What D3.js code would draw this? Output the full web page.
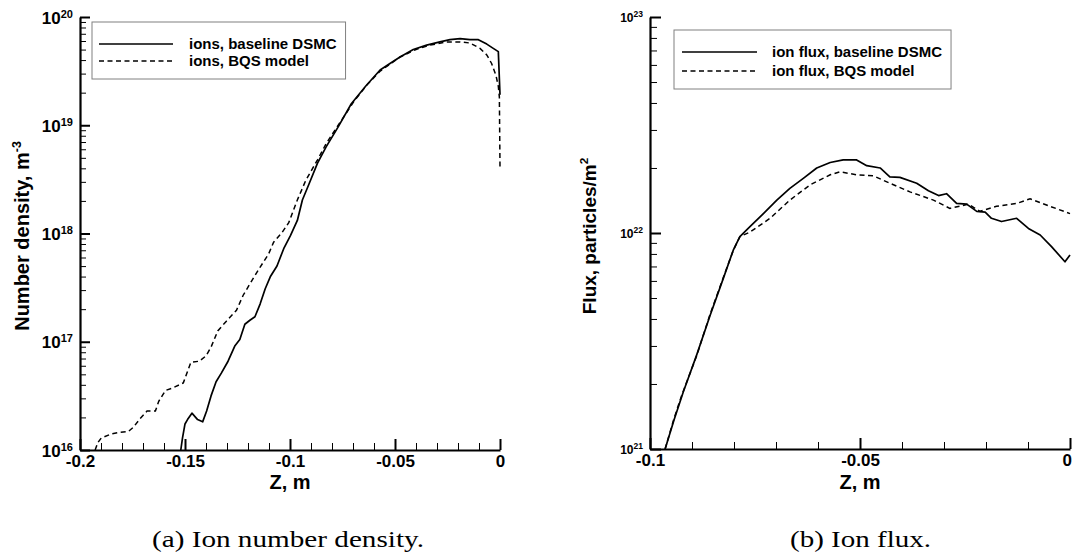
<!DOCTYPE html>
<html><head><meta charset="utf-8">
<script src="https://cdn.jsdelivr.net/npm/d3@7"></script>
<style>
html,body{margin:0;padding:0;background:#fff;}
svg{display:block;}
.lbl{font-family:"Liberation Sans",Arial,Helvetica,sans-serif;font-weight:bold;fill:#000;}
</style></head>
<body><svg id="c" width="1072" height="558"></svg>
<script>
// ---------- data: ion number density (panel a) ----------
const densBaseZ = [-0.1520,-0.1512,-0.1500,-0.1488,-0.1467,-0.1440,-0.1416,-0.1397,-0.1376,-0.1352,-0.1327,-0.1295,-0.1263,-0.1239,-0.1215,-0.1191,-0.1167,-0.1142,-0.1118,-0.1094,-0.1062,-0.1030,-0.0998,-0.0965,-0.0941,-0.0909,-0.0869,-0.0828,-0.0772,-0.0708,-0.0640,-0.0571,-0.0524,-0.0476,-0.0413,-0.0349,-0.0286,-0.0238,-0.0190,-0.0143,-0.0103,-0.0063,-0.0032,-0.0008,0];
const densBaseN = [1.0e16,1.29e16,1.74e16,1.91e16,2.19e16,1.91e16,1.82e16,2.29e16,3.16e16,4.27e16,5.13e16,6.61e16,9.12e16,1.05e17,1.45e17,1.58e17,1.70e17,2.24e17,3.09e17,3.98e17,5.01e17,7.24e17,9.55e17,1.32e18,2.04e18,2.88e18,4.47e18,6.31e18,9.55e18,1.58e19,2.29e19,3.24e19,3.72e19,4.27e19,5.01e19,5.50e19,5.89e19,6.17e19,6.31e19,6.17e19,6.17e19,5.62e19,5.13e19,4.79e19,1.91e19];
const densBqsZ = [-0.1928,-0.1915,-0.1899,-0.1850,-0.1818,-0.1770,-0.1746,-0.1714,-0.1681,-0.1641,-0.1625,-0.1593,-0.1561,-0.1508,-0.1472,-0.1432,-0.1400,-0.1376,-0.1344,-0.1303,-0.1255,-0.1223,-0.1183,-0.1142,-0.1102,-0.1078,-0.1038,-0.1006,-0.0965,-0.0925,-0.0869,-0.0828,-0.0772,-0.0692,-0.0630,-0.0571,-0.0476,-0.0400,-0.0333,-0.0254,-0.0190,-0.0143,-0.0095,-0.0063,-0.0040,-0.0019,-0.0008,-0.0003,0];
const densBqsN = [1.0e16,1.17e16,1.29e16,1.41e16,1.45e16,1.48e16,1.62e16,1.95e16,2.29e16,2.29e16,2.82e16,3.55e16,3.72e16,4.17e16,6.46e16,6.61e16,7.41e16,8.91e16,1.26e17,1.55e17,1.95e17,2.69e17,3.63e17,4.90e17,6.46e17,8.32e17,1.02e18,1.26e18,2.04e18,3.09e18,4.79e18,6.76e18,9.9e18,1.70e19,2.40e19,3.16e19,4.27e19,5.01e19,5.50e19,5.89e19,5.89e19,5.75e19,5.13e19,4.47e19,3.72e19,2.88e19,2.29e19,1.82e19,4.07e18];

// ---------- data: ion flux (panel b) ----------
const fluxBaseZ = [-0.0964,-0.0943,-0.0921,-0.0889,-0.0857,-0.0825,-0.0802,-0.0786,-0.0762,-0.0730,-0.0698,-0.0667,-0.0635,-0.0603,-0.0571,-0.0540,-0.0508,-0.0484,-0.0452,-0.0429,-0.0405,-0.0365,-0.0337,-0.0313,-0.0294,-0.0270,-0.0246,-0.0222,-0.0202,-0.0187,-0.0163,-0.0127,-0.0099,-0.0071,-0.0044,-0.0012,0];
const fluxBaseF = [1.0e21,1.36e21,1.83e21,2.72e21,4.15e21,6.20e21,8.30e21,9.62e21,1.07e22,1.23e22,1.42e22,1.61e22,1.79e22,2.00e22,2.12e22,2.18e22,2.18e22,2.05e22,2.00e22,1.82e22,1.81e22,1.70e22,1.57e22,1.49e22,1.52e22,1.37e22,1.36e22,1.26e22,1.25e22,1.17e22,1.13e22,1.17e22,1.05e22,9.79e21,8.65e21,7.36e21,7.91e21];
const fluxBqsZ = [-0.0964,-0.0943,-0.0925,-0.0889,-0.0857,-0.0825,-0.0802,-0.0786,-0.0762,-0.0714,-0.0667,-0.0619,-0.0571,-0.0548,-0.0508,-0.0468,-0.0429,-0.0381,-0.0325,-0.0286,-0.0242,-0.0214,-0.0175,-0.0127,-0.0095,-0.0048,0];
const fluxBqsF = [1.0e21,1.38e21,1.76e21,2.70e21,4.20e21,6.25e21,8.28e21,9.62e21,1.01e22,1.17e22,1.42e22,1.67e22,1.86e22,1.92e22,1.86e22,1.84e22,1.70e22,1.55e22,1.42e22,1.30e22,1.36e22,1.26e22,1.33e22,1.37e22,1.44e22,1.33e22,1.23e22];

// ---------- ticks / labels ----------
const densXTicks = [-0.2,-0.15,-0.1,-0.05,0];
const densXTickLabels = ["-0.2","-0.15","-0.1","-0.05","0"];
const densYExp = [16,17,18,19,20];
const fluxXTicks = [-0.1,-0.05,0];
const fluxXTickLabels = ["-0.1","-0.05","0"];
const fluxYExp = [21,22,23];
const densLegend = ["ions, baseline DSMC","ions, BQS model"];
const fluxLegend = ["ion flux, baseline DSMC","ion flux, BQS model"];
const captions = ["(a) Ion number density.","(b) Ion flux."];

const svg = d3.select("#c");
svg.append("rect").attr("width",1072).attr("height",558).attr("fill","#fff");

function minorRange(a,b,step,majors){
  const out=[];
  const n=Math.round((b-a)/step);
  for(let i=0;i<=n;i++){const v=+(a+i*step).toFixed(4); if(!majors.some(m=>Math.abs(m-v)<1e-9)) out.push(v);}
  return out;
}
function logMinors(e0,e1){const o=[];for(let e=e0;e<e1;e++)for(let k=2;k<=9;k++)o.push(k*Math.pow(10,e));return o;}

function panel(cfg){
  const g = svg.append("g");
  const x = d3.scaleLinear().domain(cfg.xdom).range([cfg.x0,cfg.x1]);
  const y = d3.scaleLog().domain([Math.pow(10,cfg.yexp[0]),Math.pow(10,cfg.yexp[cfg.yexp.length-1])]).range([cfg.y0,cfg.y1]);

  // curves
  const line = d3.line().x(d=>x(d[0])).y(d=>y(d[1]));
  g.append("path").datum(cfg.s1z.map((z,i)=>[z,cfg.s1v[i]]))
    .attr("d",line).attr("fill","none").attr("stroke","#000").attr("stroke-width",1.7).attr("stroke-linejoin","round");
  g.append("path").datum(cfg.s2z.map((z,i)=>[z,cfg.s2v[i]]))
    .attr("d",line).attr("fill","none").attr("stroke","#000").attr("stroke-width",1.5).attr("stroke-dasharray","5,3.5");

  // x axis minor & major
  const xMinor = minorRange(cfg.xdom[0],cfg.xdom[1],0.01,cfg.xticks);
  g.append("g").attr("transform",`translate(0,${cfg.y0})`)
    .call(d3.axisBottom(x).tickValues(xMinor).tickSizeInner(-cfg.minLen).tickSizeOuter(0).tickFormat(""))
    .call(s=>{s.select(".domain").remove();s.selectAll("line").attr("stroke-width",1);});
  const xa = g.append("g").attr("transform",`translate(0,${cfg.y0})`)
    .call(d3.axisBottom(x).tickValues(cfg.xticks).tickSizeInner(-cfg.majLen).tickSizeOuter(0).tickPadding(5)
      .tickFormat((d,i)=>cfg.xlabels[i]));
  xa.select(".domain").attr("stroke-width",2.2);
  xa.selectAll("line").attr("stroke-width",2);
  xa.selectAll("text").attr("class","lbl").attr("font-size",17).attr("fill","#000");
  xa.attr("font-family",null).attr("font-size",null);
  if(cfg.lastLabelEnd){
    xa.selectAll(".tick text").filter((d,i,n)=>i===n.length-1).attr("text-anchor","end").attr("x",1.5);
  }

  // y axis minor & major
  g.append("g").attr("transform",`translate(${cfg.x0},0)`)
    .call(d3.axisLeft(y).tickValues(logMinors(cfg.yexp[0],cfg.yexp[cfg.yexp.length-1])).tickSizeInner(-cfg.yminLen).tickSizeOuter(0).tickFormat(""))
    .call(s=>{s.select(".domain").remove();s.selectAll("line").attr("stroke-width",1);});
  const ya = g.append("g").attr("transform",`translate(${cfg.x0},0)`)
    .call(d3.axisLeft(y).tickValues(cfg.yexp.map(e=>Math.pow(10,e))).tickSizeInner(-cfg.ymajLen).tickSizeOuter(0).tickPadding(cfg.ypad).tickFormat(""));
  ya.select(".domain").attr("stroke-width",2.2);
  ya.selectAll("line").attr("stroke-width",2);
  ya.attr("font-family",null).attr("font-size",null);
  ya.selectAll(".tick text").each(function(d,i){
    const t=d3.select(this).attr("class","lbl").attr("font-size",cfg.ylabSize).attr("fill","#000").attr("dy","0.36em");
    t.append("tspan").text("10");
    t.append("tspan").attr("font-size",cfg.ysupSize).attr("dy",-cfg.ysupRise).text(String(cfg.yexp[i]));
  });

  // axis titles
  svg.append("text").attr("class","lbl").attr("font-size",20).attr("text-anchor","middle")
    .attr("x",(cfg.x0+cfg.x1)/2).attr("y",cfg.xtitleY).text("Z, m");
  const yt = svg.append("text").attr("class","lbl").attr("font-size",cfg.ytitleSize).attr("text-anchor","middle")
    .attr("transform",`translate(${cfg.ytitleX},${cfg.ytitleY}) rotate(-90)`);
  yt.append("tspan").text(cfg.ytitle);
  yt.append("tspan").attr("font-size",cfg.ytitleSize*0.62).attr("dy",-cfg.ytitleSize*0.42).text(cfg.ytitleSup);

  // legend
  const L = cfg.leg;
  const lg = svg.append("g");
  const box = lg.append("rect").attr("x",L.x).attr("y",L.y).attr("height",L.h)
    .attr("fill","#fff").attr("stroke","#808080").attr("stroke-width",1);
  let maxW=0;
  cfg.legLabels.forEach((lab,i)=>{
    const ry = L.rows[i];
    lg.append("line").attr("x1",L.lx0).attr("x2",L.lx1).attr("y1",ry).attr("y2",ry)
      .attr("stroke","#000").attr("stroke-width",i===0?1.7:1.5).attr("stroke-dasharray",i===0?null:"5,3.5");
    const tt = lg.append("text").attr("class","lbl").attr("font-size",L.fs).attr("x",L.tx).attr("y",ry+L.fs*0.36).text(lab);
    maxW=Math.max(maxW,tt.node().getComputedTextLength());
  });
  box.attr("width",L.tx+maxW+L.padR-L.x);
}

panel({
  xdom:[-0.2,0], x0:80, x1:500, y0:450, y1:17, yexp:densYExp,
  xticks:densXTicks, xlabels:densXTickLabels, majLen:11, minLen:7, ymajLen:10, yminLen:6,
  ypad:7, ylabSize:17, ysupSize:11, ysupRise:6,
  s1z:densBaseZ, s1v:densBaseN, s2z:densBqsZ, s2v:densBqsN,
  xtitleY:489, ytitle:"Number density, m", ytitleSup:"-3", ytitleSize:20, ytitleX:29, ytitleY:236,
  legLabels:densLegend,
  leg:{x:92,y:22,h:57,rows:[44,61],lx0:99,lx1:173,tx:189,fs:15,padR:9}
});
panel({
  xdom:[-0.1,0], x0:650, x1:1070, y0:449, y1:17, yexp:fluxYExp, lastLabelEnd:true,
  xticks:fluxXTicks, xlabels:fluxXTickLabels, majLen:11, minLen:7, ymajLen:11, yminLen:7,
  ypad:7, ylabSize:12, ysupSize:8.5, ysupRise:4.5,
  s1z:fluxBaseZ, s1v:fluxBaseF, s2z:fluxBqsZ, s2v:fluxBqsF,
  xtitleY:489, ytitle:"Flux, particles/m", ytitleSup:"2", ytitleSize:19, ytitleX:596, ytitleY:236,
  legLabels:fluxLegend,
  leg:{x:674,y:30,h:59,rows:[52,71],lx0:682,lx1:757,tx:772,fs:15,padR:9}
});

// captions
svg.append("text").attr("x",152).attr("y",547).attr("font-family","'Liberation Serif','Times New Roman',serif")
  .attr("font-size",24).attr("textLength",272).attr("lengthAdjust","spacingAndGlyphs").text(captions[0]);
svg.append("text").attr("x",790).attr("y",547).attr("font-family","'Liberation Serif','Times New Roman',serif")
  .attr("font-size",24).attr("textLength",141).attr("lengthAdjust","spacingAndGlyphs").text(captions[1]);
</script></body></html>
